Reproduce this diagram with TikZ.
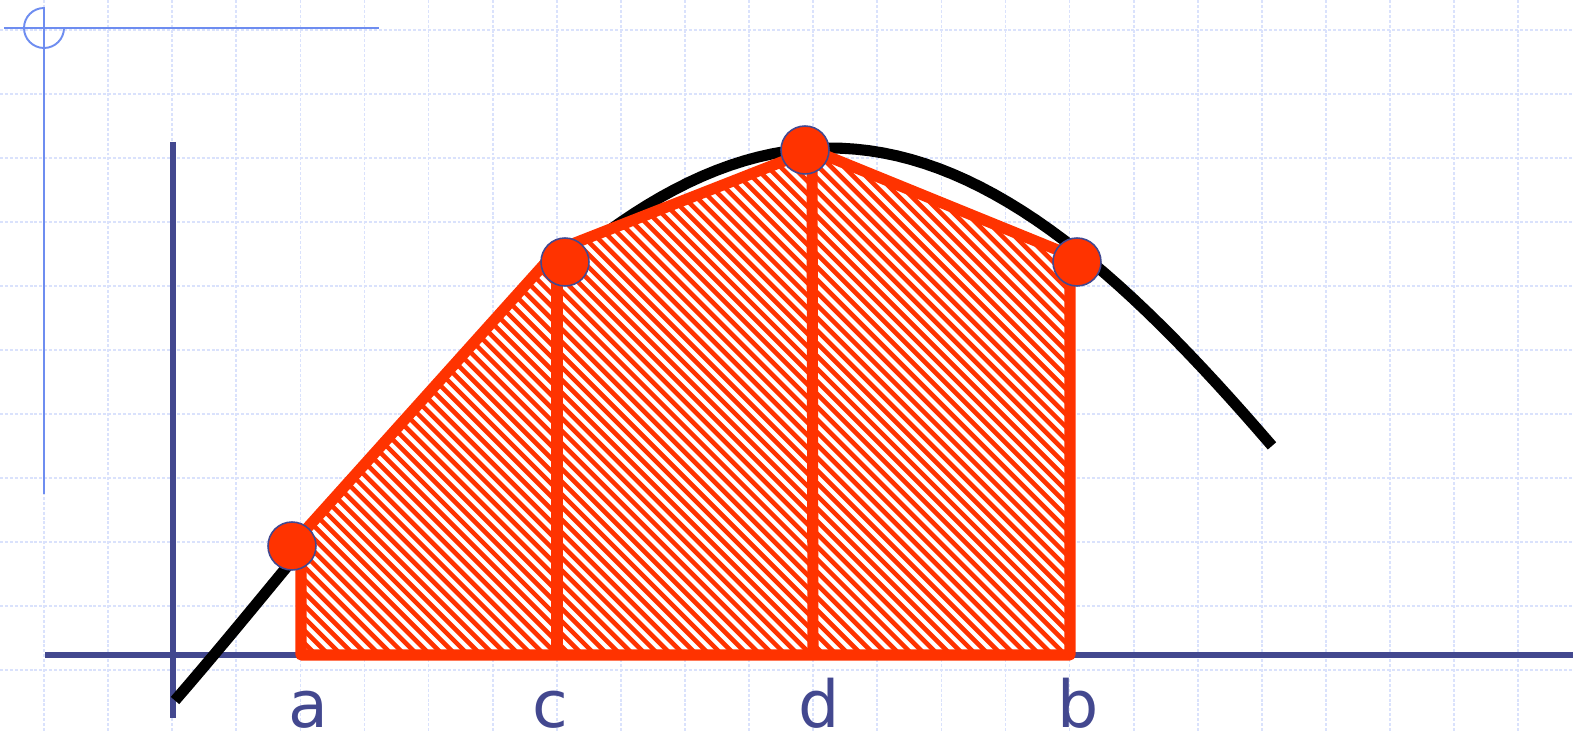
\documentclass[tikz,border=0pt]{standalone}
\usepackage{fontspec}
\newfontfamily\etiqfont{DejaVu Sans}
\usetikzlibrary{positioning,calc}
\definecolor{trapred}{RGB}{255,51,0}
\definecolor{axisblue}{RGB}{67,72,143}
\definecolor{decoblue}{RGB}{110,141,240}
\definecolor{gridblue}{RGB}{218,226,252}
\tikzset{
    gridline/.style={
        draw=gridblue,            % azul muy claro, casi no se nota
        line width=1pt,
        dash pattern=on 1.7pt off 1.1pt % trazos cortos como papel cuadriculado
    },
    decoline/.style={
        draw=decoblue,            % adorno de la plantilla (esquina)
        line width=1.1pt
    },
    axisline/.style={
        draw=axisblue,
        line width=3pt            % ejes gruesos
    },
    curveline/.style={
        draw=black,
        line width=6.3pt          % curva de la función bien visible
    },
    trapline/.style={
        draw=trapred,
        line width=6.3pt,
        line join=round           % esquinas suaves
    },
    hatchline/.style={
        draw=trapred,
        line width=2.6pt          % rayado diagonal del área
    },
    ptnode/.style={
        circle,
        fill=trapred,
        draw=axisblue,
        line width=0.9pt,
        minimum size=0.96cm,
        inner sep=0pt
    },
    ptlabel/.style={
        text=axisblue,
        font=\etiqfont\fontsize{37}{40}\selectfont,
        anchor=base,
        inner sep=0pt
    }
}

\begin{document}
\begin{tikzpicture}[x=0.02cm, y=-0.02cm]
    \useasboundingbox (0,0) rectangle (1573,733);

    \foreach \gx in {0,...,23}
        \draw[gridline] ({44+64.1*\gx},0) -- ({44+64.1*\gx},733);
    \foreach \gy in {0,...,10}
        \draw[gridline] (0,{30+64*\gy}) -- (1573,{30+64*\gy});

    \draw[decoline] (4,28) -- (379,28);
    \draw[decoline] (44,7) -- (44,494);
    \draw[decoline] (44,8) arc[start angle=90, end angle=360, radius=0.4cm];

    \draw[axisline] (173,142) -- (173,718);
    \draw[axisline] (45,655) -- (1573,655);

    \draw[curveline] plot[domain=175:1272, samples=80]
        (\x, {569.7-421.7*cos(0.165*(\x-830))});

    \coordinate (a0) at (301,655);
    \coordinate (a1) at (301,535);
    \coordinate (c0) at (557,655);
    \coordinate (c1) at (557,250);
    \coordinate (d0) at (813,655);
    \coordinate (d1) at (812,150);
    \coordinate (b0) at (1070,655);
    \coordinate (b1) at (1070,255);

    \fill[white] (a0) -- (a1) -- (c1) -- (d1) -- (b1) -- (b0) -- cycle;
    \begin{scope}
        \clip (a0) -- (a1) -- (c1) -- (d1) -- (b1) -- (b0) -- cycle;
        \foreach \k in {-364,-351.3,...,940}
            \draw[hatchline] (\k,140) -- ++(530,530);
    \end{scope}
    \draw[trapline] (a0) -- (a1) -- (c1) -- (d1) -- (b1) -- (b0) -- cycle;
    \draw[trapline] (c0) -- (c1);
    \draw[trapline] (d0) -- (d1);

    \node[ptnode] (pa) at (292,546) {};
    \node[ptnode] (pc) at (565,262) {};
    \node[ptnode] (pd) at (805,150) {};
    \node[ptnode] (pb) at (1077,262) {};

    \node[ptlabel] (la) at (308,727) {a};
    \node[ptlabel] (lc) at (550,727) {c};
    \node[ptlabel] (ld) at (819,727) {d};
    \node[ptlabel] (lb) at (1078,727) {b};
\end{tikzpicture}
\end{document}
